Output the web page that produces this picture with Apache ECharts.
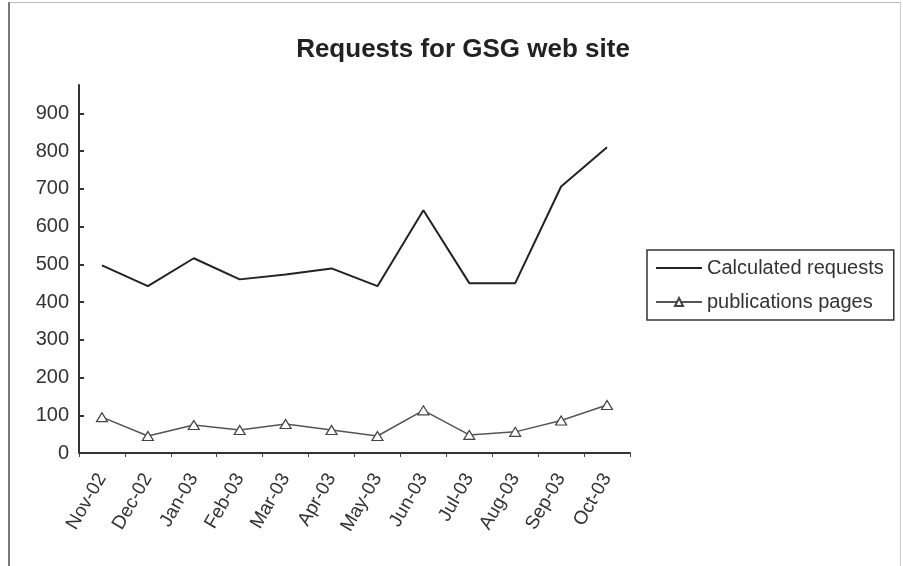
<!DOCTYPE html>
<html>
<head>
<meta charset="utf-8">
<script src="https://cdn.jsdelivr.net/npm/echarts@6/dist/echarts.min.js"></script>
<style>
  html, body { margin: 0; padding: 0; background: #fff; }
  #frame { position: absolute; left: 8px; top: 2px; width: 890px; height: 570px;
           border-left: 2px solid #777; border-top: 1px solid #bbb; border-right: 1px solid #ccc; }
  #chart { width: 903px; height: 566px; }
</style>
</head>
<body>
<div id="frame"></div>
<div id="chart"></div>
<script>
var months = ['Nov-02', 'Dec-02', 'Jan-03', 'Feb-03', 'Mar-03', 'Apr-03',
  'May-03', 'Jun-03', 'Jul-03', 'Aug-03', 'Sep-03', 'Oct-03']
var calculated = [497, 442, 516, 460, 473, 489, 442, 643, 450, 450, 706, 810]
var publications = [95, 45, 74, 61, 77, 61, 45, 113, 48, 56, 86, 127]

var myChart = echarts.init(document.getElementById('chart'))

option = {
  animation: false,
  title: {
    text: 'Requests for GSG web site',
    left: 458,
    textAlign: 'center',
    top: 32,
    textStyle: {
      fontFamily: 'Liberation Sans',
      fontSize: 26,
      fontWeight: 'bold',
      color: '#222'
    }
  },
  legend: {
    orient: 'vertical',
    left: 647,
    top: 250,
    padding: [8, 10, 8, 8],
    itemGap: 14,
    itemWidth: 46,
    itemHeight: 10,
    borderColor: '#333',
    borderWidth: 1.5,
    textStyle: {
      fontFamily: 'Liberation Sans',
      fontSize: 20,
      color: '#333'
    },
    data: [
      { name: 'Calculated requests', icon: 'path://M0,4 L46,4 L46,6 L0,6 Z' },
      { name: 'publications pages' }
    ]
  },
  grid: {
    left: 79,
    right: 903 - 630,
    top: 453 - 368,
    bottom: 566 - 453
  },
  xAxis: {
    type: 'category',
    data: months,
    boundaryGap: true,
    axisLine: { lineStyle: { color: '#333', width: 2 } },
    axisTick: { show: true, length: 4, lineStyle: { color: '#444' } },
    axisLabel: {
      rotate: 60,
      margin: 22,
      fontFamily: 'Liberation Sans',
      fontSize: 19,
      color: '#333'
    },
    splitLine: { show: false }
  },
  yAxis: {
    type: 'value',
    min: 0,
    max: 975,
    interval: 100,
    axisLine: { show: true, lineStyle: { color: '#333', width: 2 } },
    axisTick: { show: true, inside: true, length: 5, lineStyle: { color: '#333', width: 2 } },
    axisLabel: {
      showMaxLabel: false,
      margin: 10,
      fontFamily: 'Liberation Sans',
      fontSize: 20,
      color: '#333',
      formatter: function (v) { return v % 100 === 0 ? String(v) : '' }
    },
    splitLine: { show: false }
  },
  series: [
    {
      name: 'Calculated requests',
      type: 'line',
      data: calculated,
      showSymbol: false,
      symbol: 'none',
      itemStyle: { color: '#222' },
      lineStyle: { color: '#222', width: 2 }
    },
    {
      name: 'publications pages',
      type: 'line',
      data: publications,
      symbol: 'triangle',
      symbolSize: [11, 9],
      itemStyle: { color: '#fff', borderColor: '#444', borderWidth: 1.2 },
      lineStyle: { color: '#555', width: 1.5 }
    }
  ]
}
myChart.setOption(option)
window.onresize = function () {
  myChart.resize()
}
</script>
</body>
</html>
